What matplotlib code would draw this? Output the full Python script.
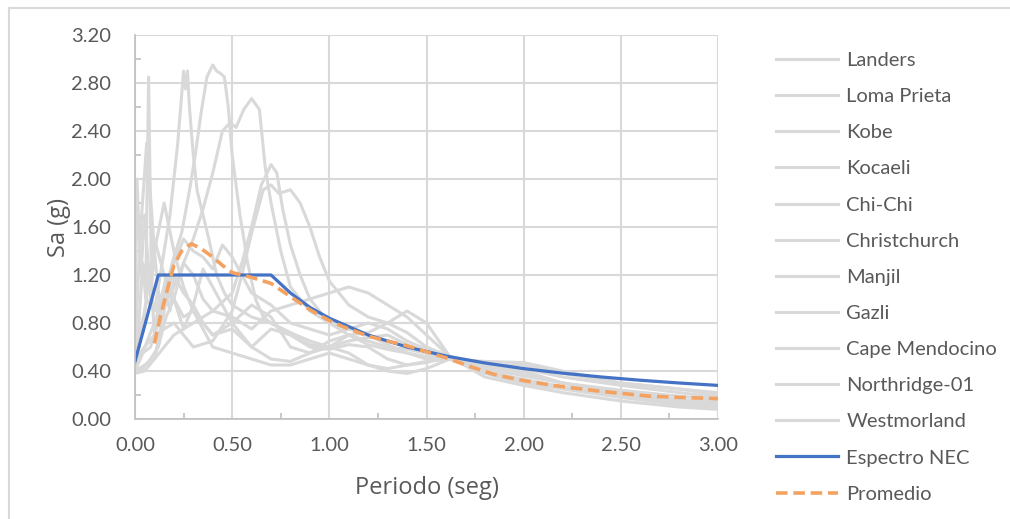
import numpy as np
import matplotlib
matplotlib.use('Agg')
from matplotlib import pyplot as plt
from matplotlib.lines import Line2D
from matplotlib.ticker import MultipleLocator

# registros sismicos (periodo en seg, Sa en g)
landers_t = [0, 0.02, 0.04, 0.055, 0.07, 0.085, 0.1, 0.12, 0.15, 0.18, 0.2, 0.25, 0.3, 0.35, 0.4, 0.5, 0.6, 0.7, 0.8, 0.9,
             1.0, 1.1, 1.2, 1.3, 1.4, 1.5, 1.62, 1.8, 2.0, 2.2, 2.4, 2.6, 2.8, 3.0]
landers_sa = [0.42, 0.8, 1.3, 1.0, 2.85, 1.1, 0.7, 0.95, 1.1, 0.9, 1.2, 1.05, 0.95, 0.8, 0.7, 0.8, 0.6, 0.75, 0.7, 0.62,
              0.6, 0.7, 0.65, 0.6, 0.58, 0.55, 0.5, 0.4, 0.33, 0.27, 0.22, 0.19, 0.16, 0.14]

loma_t = [0, 0.03, 0.06, 0.1, 0.14, 0.18, 0.2, 0.22, 0.24, 0.25, 0.26, 0.27, 0.28, 0.3, 0.32, 0.35, 0.38, 0.42, 0.46, 0.5,
          0.55, 0.6, 0.7, 0.8, 0.9, 1.0, 1.1, 1.2, 1.3, 1.4, 1.5, 1.62, 1.8, 2.0, 2.2, 2.5, 2.8, 3.0]
loma_sa = [0.5, 0.7, 1.0, 0.9, 1.3, 1.7, 2.0, 2.3, 2.7, 2.9, 2.75, 2.9, 2.6, 2.2, 1.9, 1.7, 1.5, 1.2, 1.05, 0.95,
           0.9, 0.85, 0.8, 0.72, 0.65, 0.6, 0.55, 0.45, 0.42, 0.45, 0.48, 0.5, 0.44, 0.4, 0.3, 0.22, 0.16, 0.13]

kobe_t = [0, 0.04, 0.08, 0.12, 0.16, 0.2, 0.24, 0.28, 0.31, 0.34, 0.37, 0.4, 0.42, 0.44, 0.46, 0.48, 0.5, 0.54, 0.58,
          0.62, 0.66, 0.7, 0.8, 0.9, 1.0, 1.1, 1.2, 1.3, 1.4, 1.5, 1.62, 1.8, 2.0, 2.2, 2.5, 2.8, 3.0]
kobe_sa = [0.4, 0.55, 0.6, 0.8, 1.1, 1.35, 1.55, 1.9, 2.2, 2.55, 2.85, 2.95, 2.9, 2.88, 2.85, 2.6, 2.2, 1.7, 1.3,
           1.0, 0.85, 0.8, 0.7, 0.6, 0.58, 0.62, 0.6, 0.5, 0.45, 0.47, 0.52, 0.45, 0.38, 0.3, 0.22, 0.15, 0.12]

kocaeli_t = [0, 0.05, 0.1, 0.15, 0.2, 0.25, 0.3, 0.35, 0.4, 0.45, 0.49, 0.52, 0.56, 0.6, 0.64, 0.67, 0.7, 0.75, 0.8,
             0.9, 1.0, 1.1, 1.2, 1.3, 1.4, 1.5, 1.62, 1.8, 2.0, 2.2, 2.5, 2.8, 3.0]
kocaeli_sa = [0.45, 0.6, 0.8, 0.95, 1.1, 1.3, 1.5, 1.75, 2.05, 2.4, 2.47, 2.43, 2.58, 2.67, 2.58, 2.1, 1.8, 1.4, 1.1,
              0.9, 0.8, 0.75, 0.7, 0.62, 0.55, 0.5, 0.5, 0.4, 0.32, 0.26, 0.2, 0.15, 0.12]

chichi_t = [0, 0.05, 0.1, 0.15, 0.2, 0.3, 0.4, 0.5, 0.55, 0.6, 0.65, 0.7, 0.73, 0.76, 0.8, 0.85, 0.9, 1.0, 1.1, 1.2,
            1.3, 1.4, 1.5, 1.62, 1.8, 2.0, 2.2, 2.5, 2.8, 3.0]
chichi_sa = [0.4, 0.45, 0.5, 0.6, 0.7, 0.8, 0.9, 1.05, 1.3, 1.6, 1.95, 2.12, 2.05, 1.75, 1.45, 1.2, 1.0, 0.8, 0.7, 0.62,
             0.58, 0.55, 0.52, 0.5, 0.42, 0.36, 0.3, 0.24, 0.19, 0.16]

christ_t = [0, 0.05, 0.1, 0.15, 0.2, 0.3, 0.4, 0.5, 0.55, 0.6, 0.66, 0.7, 0.74, 0.8, 0.85, 0.9, 0.95, 1.0, 1.1, 1.2,
            1.3, 1.4, 1.5, 1.62, 1.8, 2.0, 2.2, 2.5, 2.8, 3.0]
christ_sa = [0.5, 0.6, 0.7, 0.75, 0.8, 0.6, 0.65, 0.9, 1.2, 1.55, 1.91, 1.95, 1.88, 1.91, 1.8, 1.6, 1.35, 1.15, 0.95, 0.85,
             0.8, 0.72, 0.6, 0.52, 0.45, 0.45, 0.38, 0.3, 0.25, 0.22]

manjil_t = [0, 0.05, 0.1, 0.15, 0.2, 0.25, 0.3, 0.35, 0.4, 0.5, 0.6, 0.7, 0.8, 0.9, 1.0, 1.1, 1.2, 1.3, 1.4, 1.5,
            1.62, 1.8, 2.0, 2.2, 2.5, 2.8, 3.0]
manjil_sa = [0.55, 0.9, 1.5, 1.2, 1.0, 1.3, 1.2, 1.0, 0.9, 0.85, 0.75, 0.9, 0.95, 1.0, 1.05, 1.1, 1.05, 0.95, 0.85, 0.7,
             0.52, 0.35, 0.28, 0.22, 0.15, 0.1, 0.08]

gazli_t = [0, 0.03, 0.06, 0.1, 0.15, 0.2, 0.25, 0.3, 0.4, 0.5, 0.6, 0.7, 0.8, 0.9, 1.0, 1.1, 1.2, 1.3, 1.4, 1.5,
           1.62, 1.8, 2.0, 2.2, 2.5, 2.8, 3.0]
gazli_sa = [0.6, 1.6, 2.3, 1.4, 1.8, 1.4, 1.1, 0.9, 0.7, 0.75, 0.6, 0.5, 0.48, 0.55, 0.65, 0.7, 0.72, 0.8, 0.9, 0.8,
            0.52, 0.38, 0.3, 0.25, 0.18, 0.12, 0.1]

cape_t = [0, 0.01, 0.03, 0.05, 0.08, 0.1, 0.13, 0.16, 0.2, 0.25, 0.3, 0.35, 0.4, 0.5, 0.6, 0.7, 0.8, 0.9, 1.0, 1.1,
          1.2, 1.3, 1.4, 1.5, 1.62, 1.8, 2.0, 2.2, 2.5, 2.8, 3.0]
cape_sa = [0.6, 2.0, 1.2, 1.7, 1.0, 1.4, 0.9, 1.2, 1.0, 0.85, 0.9, 0.75, 0.6, 0.55, 0.5, 0.45, 0.45, 0.5, 0.55, 0.5,
           0.45, 0.4, 0.38, 0.42, 0.5, 0.48, 0.47, 0.4, 0.3, 0.25, 0.2]

northridge_t = [0, 0.05, 0.1, 0.15, 0.2, 0.25, 0.3, 0.35, 0.4, 0.45, 0.5, 0.55, 0.6, 0.7, 0.8, 0.9, 1.0, 1.1, 1.2,
                1.3, 1.4, 1.5, 1.62, 1.8, 2.0, 2.2, 2.5, 2.8, 3.0]
northridge_sa = [0.38, 0.4, 0.5, 0.9, 1.3, 1.5, 1.4, 1.35, 1.25, 1.45, 1.35, 1.2, 1.05, 0.95, 0.8, 0.75, 0.7, 0.75, 0.8,
                 0.75, 0.65, 0.58, 0.52, 0.4, 0.3, 0.26, 0.2, 0.14, 0.1]

westmorland_t = [0, 0.04, 0.08, 0.12, 0.16, 0.2, 0.25, 0.3, 0.35, 0.4, 0.5, 0.6, 0.7, 0.8, 0.9, 1.0, 1.1, 1.2, 1.3,
                 1.4, 1.5, 1.62, 1.8, 2.0, 2.2, 2.5, 2.8, 3.0]
westmorland_sa = [0.4, 0.42, 0.5, 0.6, 0.85, 1.0, 0.75, 0.95, 1.25, 1.1, 0.8, 0.95, 0.85, 0.6, 0.55, 0.6, 0.65, 0.68,
                  0.7, 0.62, 0.55, 0.5, 0.44, 0.42, 0.35, 0.28, 0.22, 0.18]

nec_t = [0, 0.12, 0.70, 0.80, 0.90, 1.0, 1.2, 1.4, 1.6, 1.8, 2.0, 2.2, 2.4, 2.6, 2.8, 3.0]
nec_sa = [0.48, 1.2, 1.2, 1.05, 0.93, 0.84, 0.70, 0.60, 0.525, 0.467, 0.42, 0.382, 0.35, 0.323, 0.30, 0.28]

prom_t = [0.10, 0.13, 0.17, 0.20, 0.24, 0.29, 0.34, 0.40, 0.45, 0.50, 0.60, 0.70, 0.80, 0.90, 1.00, 1.07, 1.20, 1.30,
          1.40, 1.50, 1.60, 1.72, 1.85, 2.00, 2.15, 2.40, 2.65, 2.80, 3.00]
prom_sa = [0.63, 0.85, 1.10, 1.28, 1.40, 1.46, 1.42, 1.35, 1.28, 1.22, 1.18, 1.13, 1.02, 0.91, 0.82, 0.77, 0.69, 0.65,
           0.61, 0.56, 0.51, 0.44, 0.37, 0.32, 0.28, 0.23, 0.19, 0.18, 0.17]

registros = [
    ('Landers', landers_t, landers_sa),
    ('Loma Prieta', loma_t, loma_sa),
    ('Kobe', kobe_t, kobe_sa),
    ('Kocaeli', kocaeli_t, kocaeli_sa),
    ('Chi-Chi', chichi_t, chichi_sa),
    ('Christchurch', christ_t, christ_sa),
    ('Manjil', manjil_t, manjil_sa),
    ('Gazli', gazli_t, gazli_sa),
    ('Cape Mendocino', cape_t, cape_sa),
    ('Northridge-01', northridge_t, northridge_sa),
    ('Westmorland', westmorland_t, westmorland_sa),
]

plt.rcParams['font.family'] = ['Lato', 'DejaVu Sans']

fig = plt.figure(figsize=(10.10, 5.19), dpi=100)
ax = fig.add_axes([135 / 1010, 1 - 419 / 519, (718 - 135) / 1010, (419 - 35) / 519])

for nombre, t, sa in registros:
    ax.plot(t, sa, color='#d9d9d9', lw=2.2, label=nombre, solid_joinstyle='round')
ax.plot(nec_t, nec_sa, color='#4472c4', lw=2.3, label='Espectro NEC')
ax.plot(prom_t, prom_sa, color='#f4a261', lw=2.6, dashes=(3.2, 1.6), label='Promedio')

ax.set_xlim(0, 3.0)
ax.set_ylim(0, 3.2)
ax.xaxis.set_major_locator(MultipleLocator(0.5))
ax.xaxis.set_minor_locator(MultipleLocator(0.25))
ax.yaxis.set_major_locator(MultipleLocator(0.4))
ax.yaxis.set_minor_locator(MultipleLocator(0.2))
ax.xaxis.set_major_formatter(lambda v, p: '%.2f' % v)
ax.yaxis.set_major_formatter(lambda v, p: '%.2f' % v)
ax.grid(True, which='major', color='#d9d9d9', lw=1.5)
ax.set_axisbelow(True)
for s in ['top', 'right']:
    ax.spines[s].set_visible(False)
for s in ['left', 'bottom']:
    ax.spines[s].set_color('#bfbfbf')
    ax.spines[s].set_linewidth(1.2)
ax.tick_params(which='major', length=0, labelsize=14.5, labelcolor='#595959')
ax.tick_params(axis='y', which='major', pad=17)
ax.tick_params(axis='x', which='major', pad=13)
ax.tick_params(which='minor', direction='in', length=4, color='#bfbfbf', width=1.2)

ax.set_xlabel('Periodo (seg)', family='Open Sans', fontsize=17, color='#595959', labelpad=16)
ax.set_ylabel('Sa (g)', family='Open Sans', fontsize=17, color='#595959', labelpad=0)

fig.legend(loc='upper left', bbox_to_anchor=(776 / 1010, 1 - 52 / 519), frameon=False,
           fontsize=14.5, labelcolor='#595959', handlelength=3.1, handletextpad=0.4,
           labelspacing=0.945, borderpad=0, borderaxespad=0)

# marco exterior
fig.add_artist(Line2D([9 / 1010, 9 / 1010], [0, 1 - 8 / 519], color='#d9d9d9', lw=1.5))
fig.add_artist(Line2D([9 / 1010, 1], [1 - 8 / 519, 1 - 8 / 519], color='#d9d9d9', lw=1.5))

fig.savefig('out.png', dpi=100)
